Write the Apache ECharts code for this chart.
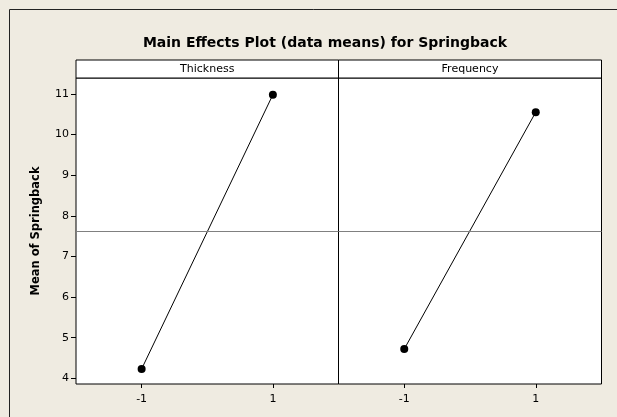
<!DOCTYPE html>
<html>
<head>
<meta charset="utf-8">
<script src="https://cdn.jsdelivr.net/npm/echarts@6/dist/echarts.min.js"></script>
<style>
  html, body { margin: 0; padding: 0; background: #efebe1; }
  #main { width: 617px; height: 417px; }
</style>
</head>
<body>
<div id="main"></div>
<script>
// data
var factors = ['Thickness', 'Frequency'];
var levels = [-1, 1];
var thicknessMeans = [4.23, 10.98];
var frequencyMeans = [4.72, 10.55];
var grandMean = 7.62;
var yTicks = [4, 5, 6, 7, 8, 9, 10, 11];

var font = 'DejaVu Sans';
var plotTop = 78, plotBottom = 33;
var panels = [{left: 76, width: 262.5}, {left: 338.5, width: 263}];

function pairs(vals) {
  return levels.map(function (x, i) { return [x, vals[i]]; });
}

var xAxes = [], yAxes = [], grids = [], series = [], graphics = [];
var allMeans = [thicknessMeans, frequencyMeans];

// outer frame
graphics.push({
  type: 'polyline',
  shape: {points: [[9.5, 417], [9.5, 9.5], [617, 9.5]]},
  style: {stroke: '#222', fill: null, lineWidth: 1}
});

panels.forEach(function (p, i) {
  grids.push({
    left: p.left, width: p.width, top: plotTop, bottom: plotBottom,
    show: true, backgroundColor: '#fff', borderColor: '#000', borderWidth: 1
  });
  xAxes.push({
    type: 'value', gridIndex: i, min: -2, max: 2,
    splitLine: {show: false},
    axisLine: {show: false, onZero: false},
    axisTick: {show: true, length: 4, customValues: levels, lineStyle: {color: '#000'}},
    axisLabel: {customValues: levels, color: '#000', fontSize: 11, fontFamily: font, margin: 10}
  });
  yAxes.push({
    type: 'value', gridIndex: i, min: 3.86, max: 11.39,
    show: i === 0,
    name: i === 0 ? 'Mean of Springback' : '',
    nameLocation: 'middle', nameGap: 34,
    nameTextStyle: {color: '#000', fontSize: 11.5, fontWeight: 'bold', fontFamily: font},
    splitLine: {show: false},
    axisLine: {show: false, onZero: false},
    axisTick: {show: true, length: 5, customValues: yTicks, lineStyle: {color: '#000'}},
    axisLabel: {customValues: yTicks, color: '#000', fontSize: 11, fontFamily: font, margin: 7}
  });
  series.push({
    type: 'line', xAxisIndex: i, yAxisIndex: i,
    data: pairs(allMeans[i]),
    symbol: 'circle', symbolSize: 8,
    itemStyle: {color: '#000'},
    lineStyle: {color: '#000', width: 1},
    markLine: {
      silent: true, symbol: 'none', label: {show: false},
      lineStyle: {color: '#808080', width: 1, type: 'solid'},
      data: [{yAxis: grandMean}]
    },
    z: 3
  });
  // factor strip
  graphics.push({
    type: 'rect',
    shape: {x: p.left, y: 60, width: p.width, height: 18},
    style: {fill: '#fff', stroke: '#000', lineWidth: 1}
  });
  graphics.push({
    type: 'text',
    x: p.left + p.width / 2, y: 69,
    style: {text: factors[i], fill: '#000', font: '11px "' + font + '"', align: 'center', verticalAlign: 'middle'}
  });
});

var chart = echarts.init(document.getElementById('main'));
chart.setOption({
  backgroundColor: '#efebe1',
  animation: false,
  title: {
    text: 'Main Effects Plot (data means) for Springback',
    left: 320, textAlign: 'center', top: 31,
    textStyle: {color: '#000', fontSize: 14, fontWeight: 'bold', fontFamily: font}
  },
  grid: grids,
  xAxis: xAxes,
  yAxis: yAxes,
  series: series,
  graphic: graphics
});
</script>
</body>
</html>
